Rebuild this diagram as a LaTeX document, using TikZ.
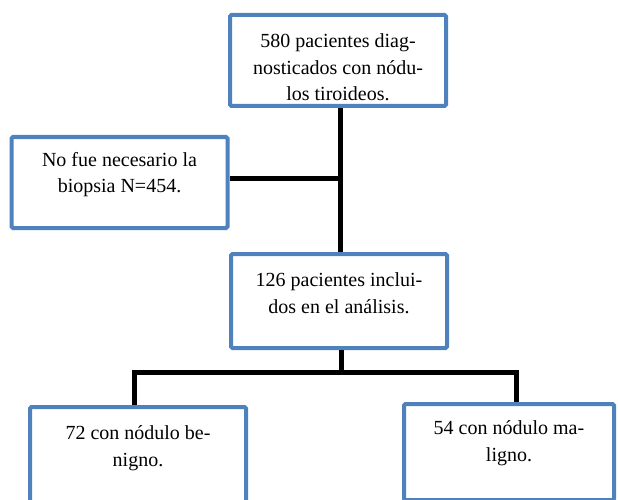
\documentclass[tikz,border=0pt]{standalone}
\usepackage{fontspec}
\setmainfont{Liberation Serif}
\usetikzlibrary{positioning}
\definecolor{boxblue}{RGB}{79,129,189}
\tikzstyle{box}=[rectangle, draw=boxblue, line width=4pt, rounded corners=1.5pt, fill=white,
        minimum width=216pt, minimum height=91pt, inner sep=0pt]
\tikzstyle{txt}=[align=center, inner sep=0pt, font=\fontsize{20}{26.5}\selectfont]
\tikzstyle{link}=[draw=black, line width=5pt]

\begin{document}
\begin{tikzpicture}[x=1pt, y=-1pt]
        \clip (0,0) rectangle (618,500);
        \node (total) [box] at (338,60.5) {};
        \node (totalText) [txt, yshift=-7pt] at (total)
        {
          580 pacientes diag-\\nosticados con nódu-\\los tiroideos.
        };
        \node (noBiopsy) [box] at (119.5,182.5) {};
        \node (noBiopsyText) [txt, yshift=8pt] at (noBiopsy)
        {
          No fue necesario la\\biopsia N=454.
        };
        \node (included) [box, minimum height=94pt] at (339,301) {};
        \node (includedText) [txt, yshift=8pt] at (included)
        {
          126 pacientes inclui-\\dos en el análisis.
        };
        \node (benign) [box, minimum height=96pt] at (138,455) {};
        \node (benignText) [txt, yshift=7pt] at (benign)
        {
          72 con nódulo be-\\nigno.
        };
        \node (malignant) [box, minimum width=210pt, minimum height=96pt] at (509,452) {};
        \node (malignantText) [txt, yshift=9pt] at (malignant)
        {
          54 con nódulo ma-\\ligno.
        };
        \coordinate (split) at (341,372);
        \draw[link] (total.south -| 340,0) -- (included.north -| 340,0);
        \draw[link] (noBiopsy.east |- 0,178) -- (340,178);
        \draw[link] (included.south -| split) -- (split);
        \draw[link] ([xshift=-4pt]benign.north) |- (split) -| ([xshift=7pt]malignant.north);
      \end{tikzpicture}
\end{document}
